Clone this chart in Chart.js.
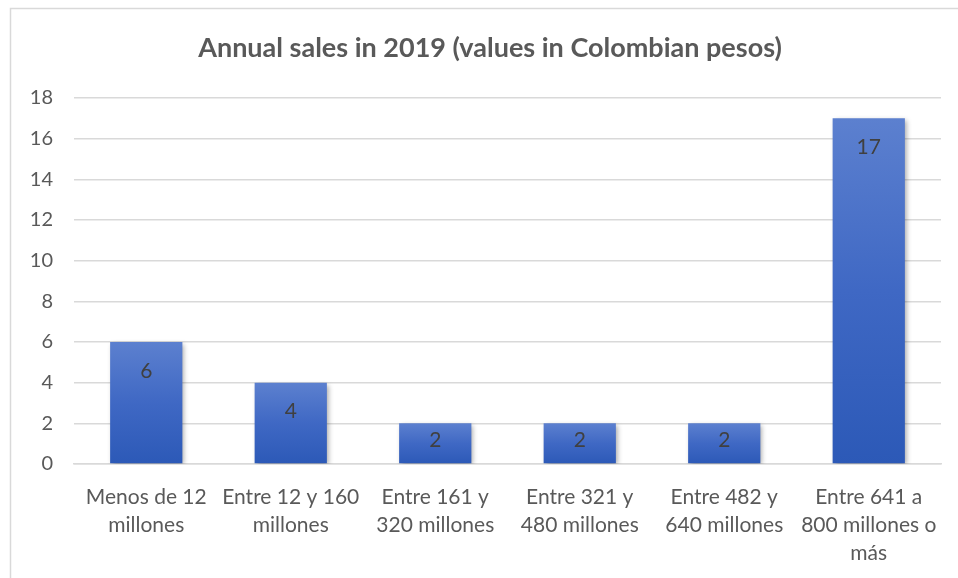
<!DOCTYPE html>
<html>
<head>
<meta charset="utf-8">
<script src="https://cdn.jsdelivr.net/npm/chart.js@4/dist/chart.umd.min.js"></script>
<style>
html,body{margin:0;padding:0;background:#fff;}
#wrap{width:958px;height:578px;position:relative;}
</style>
</head>
<body>
<div id="wrap"><canvas id="c" width="958" height="578"></canvas></div>
<script>
const chartTitle = "Annual sales in 2019 (values in Colombian pesos)";
const categories = [
  ["Menos de 12", "millones"],
  ["Entre 12 y 160", "millones"],
  ["Entre 161 y", "320 millones"],
  ["Entre 321 y", "480 millones"],
  ["Entre 482 y", "640 millones"],
  ["Entre 641 a", "800 millones o", "más"]
];
const salesCounts = [6, 4, 2, 2, 2, 17];
const yTicks = [0, 2, 4, 6, 8, 10, 12, 14, 16, 18];

const FONT = "Lato, 'Open Sans', sans-serif";
const TEXT = "#595959";

const framePlugin = {
  id: 'frame',
  beforeDraw(chart) {
    const ctx = chart.ctx;
    ctx.save();
    ctx.fillStyle = '#fff';
    ctx.fillRect(0, 0, chart.width, chart.height);
    ctx.strokeStyle = '#d9d9d9';
    ctx.lineWidth = 1.5;
    ctx.beginPath();
    ctx.moveTo(10.5, chart.height + 5);
    ctx.lineTo(10.5, 8.5);
    ctx.lineTo(chart.width + 5, 8.5);
    ctx.stroke();
    ctx.fillStyle = TEXT;
    ctx.font = "bold 27px " + FONT;
    ctx.textAlign = 'center';
    ctx.textBaseline = 'middle';
    ctx.fillText(chartTitle, 490, 48);
    ctx.restore();
  },
  beforeDatasetsDraw(chart) {
    const ctx = chart.ctx;
    ctx.save();
    ctx.shadowColor = 'rgba(0,0,0,0.35)';
    ctx.shadowBlur = 5;
    ctx.shadowOffsetX = 2;
    ctx.shadowOffsetY = 2;
  },
  afterDatasetsDraw(chart) {
    const ctx = chart.ctx;
    ctx.restore();
    ctx.save();
    ctx.fillStyle = '#404040';
    ctx.font = "21px " + FONT;
    ctx.textAlign = 'center';
    ctx.textBaseline = 'middle';
    const meta = chart.getDatasetMeta(0);
    meta.data.forEach((bar, i) => {
      const h = bar.base - bar.y;
      const y = bar.y + Math.min(29, h * 0.42);
      ctx.fillText(String(chart.data.datasets[0].data[i]), bar.x, y);
    });
    ctx.restore();
  }
};

new Chart(document.getElementById('c'), {
  type: 'bar',
  data: {
    labels: categories,
    datasets: [{
      data: salesCounts,
      borderWidth: 0,
      backgroundColor(context) {
        const chart = context.chart;
        const ys = chart.scales && chart.scales.y;
        if (!ys || context.raw === undefined) return '#4472c4';
        const top = ys.getPixelForValue(context.raw);
        const bot = ys.getPixelForValue(0);
        if (!isFinite(top) || !isFinite(bot) || bot - top < 1) return '#4472c4';
        const g = chart.ctx.createLinearGradient(0, top, 0, bot);
        g.addColorStop(0, '#5c80cf');
        g.addColorStop(0.5, '#3f68c4');
        g.addColorStop(1, '#2c59b7');
        return g;
      },
      categoryPercentage: 1,
      barPercentage: 0.5
    }]
  },
  options: {
    responsive: false,
    animation: false,
    devicePixelRatio: 1,
    layout: { padding: { left: 0, right: 17, top: 98, bottom: 0 } },
    plugins: { legend: { display: false }, title: { display: false }, tooltip: { enabled: false } },
    scales: {
      x: {
        grid: { display: false, drawTicks: false },
        border: { display: true, color: '#d9d9d9', width: 1.5 },
        ticks: {
          color: TEXT,
          font: { family: FONT, size: 21, lineHeight: 1.33 },
          padding: 19,
          maxRotation: 0,
          autoSkip: false
        },
        afterFit(scale) { scale.height = 114; }
      },
      y: {
        min: 0, max: 18,
        afterBuildTicks(scale) { scale.ticks = yTicks.map(v => ({ value: v })); },
        grid: { color: '#d9d9d9', lineWidth: 1.5, drawTicks: false },
        border: { display: false },
        ticks: {
          color: TEXT,
          font: { family: FONT, size: 20 },
          padding: 21,
          align: 'center'
        },
        afterFit(scale) { scale.width = 74; }
      }
    }
  },
  plugins: [framePlugin]
});
</script>
</body>
</html>
